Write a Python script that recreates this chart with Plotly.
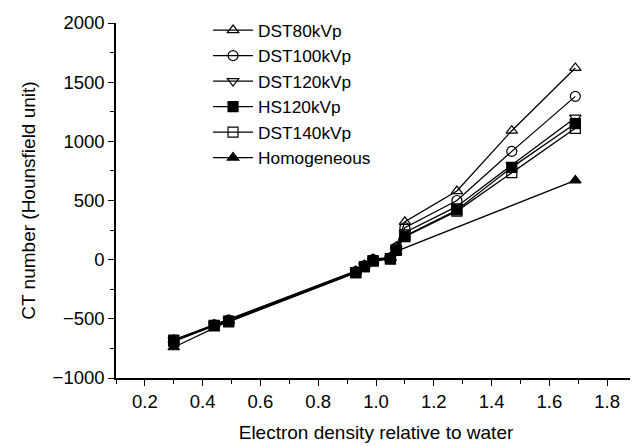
import plotly.graph_objects as go

# Electron density relative to water
x_dst = [0.30, 0.44, 0.49, 0.93, 0.96, 0.99, 1.05, 1.07, 1.10, 1.28, 1.47, 1.69]
dst80 = [-680, -550, -510, -95, -45, 5, 20, 110, 320, 580, 1090, 1620]
dst100 = [-680, -550, -510, -100, -50, 0, 15, 100, 270, 500, 915, 1380]
dst120 = [-680, -550, -515, -105, -55, -5, 10, 90, 230, 450, 800, 1200]
hs120 = [-680, -555, -520, -110, -60, -10, 10, 80, 200, 420, 780, 1150]
dst140 = [-690, -560, -525, -110, -60, -10, 5, 80, 195, 410, 735, 1110]

x_hom = [0.30, 0.49, 0.93, 0.99, 1.05, 1.07, 1.69]
homogeneous = [-740, -520, -100, -10, 10, 70, 670]

series = [
    ("DST80kVp", x_dst, dst80, "triangle-up-open"),
    ("DST100kVp", x_dst, dst100, "circle-open"),
    ("DST120kVp", x_dst, dst120, "triangle-down-open"),
    ("HS120kVp", x_dst, hs120, "square"),
    ("DST140kVp", x_dst, dst140, "square-open"),
    ("Homogeneous", x_hom, homogeneous, "triangle-up"),
]

FONT = "Liberation Sans, Arial, sans-serif"
fig = go.Figure()
for name, xs, ys, sym in series:
    fig.add_trace(go.Scatter(
        x=xs, y=ys, name=name, mode="lines+markers",
        line=dict(color="black", width=1.3),
        marker=dict(symbol=sym, size=10, color="black",
                    line=dict(color="black", width=1.2)),
    ))

fig.update_layout(
    width=638, height=446,
    margin=dict(l=108, r=10, t=15, b=76, autoexpand=False),
    paper_bgcolor="white", plot_bgcolor="white",
    font=dict(family=FONT, size=18.5, color="black"),
    showlegend=True,
    legend=dict(x=0.177, y=1.03, xanchor="left", yanchor="top",
                bgcolor="rgba(0,0,0,0)", font=dict(size=17.3),
                itemwidth=40, tracegroupgap=0),
)
fig.update_xaxes(
    range=[0.1, 1.9], tickmode="array", automargin=False,
    tickvals=[0.2, 0.4, 0.6, 0.8, 1.0, 1.2, 1.4, 1.6, 1.8],
    ticktext=["0.2", "0.4", "0.6", "0.8", "1.0", "1.2", "1.4", "1.6", "1.8"],
    ticks="outside", ticklen=6, tickwidth=1.2, tickcolor="black",
    minor=dict(tickvals=[0.1, 0.3, 0.5, 0.7, 0.9, 1.1, 1.3, 1.5, 1.7],
               ticks="outside", ticklen=4, tickcolor="black"),
    showline=True, linecolor="black", linewidth=1.5,
    showgrid=False, zeroline=False,
    title=dict(text="Electron density relative to water", standoff=15,
               font=dict(size=19)),
)
fig.update_yaxes(
    range=[-1000, 2000], automargin=False,
    tickvals=[-1000, -500, 0, 500, 1000, 1500, 2000],
    ticktext=["\u22121000", "\u2212500", "0", "500", "1000", "1500", "2000"],
    ticks="outside", ticklen=6, tickwidth=1.2, tickcolor="black",
    minor=dict(tickvals=[-750, -250, 250, 750, 1250, 1750],
               ticks="outside", ticklen=4, tickcolor="black"),
    showline=True, linecolor="black", linewidth=1.5,
    showgrid=False, zeroline=False,
    title=dict(text="CT number (Hounsfield unit)", standoff=12,
               font=dict(size=19)),
)
fig.write_html("out.html")
